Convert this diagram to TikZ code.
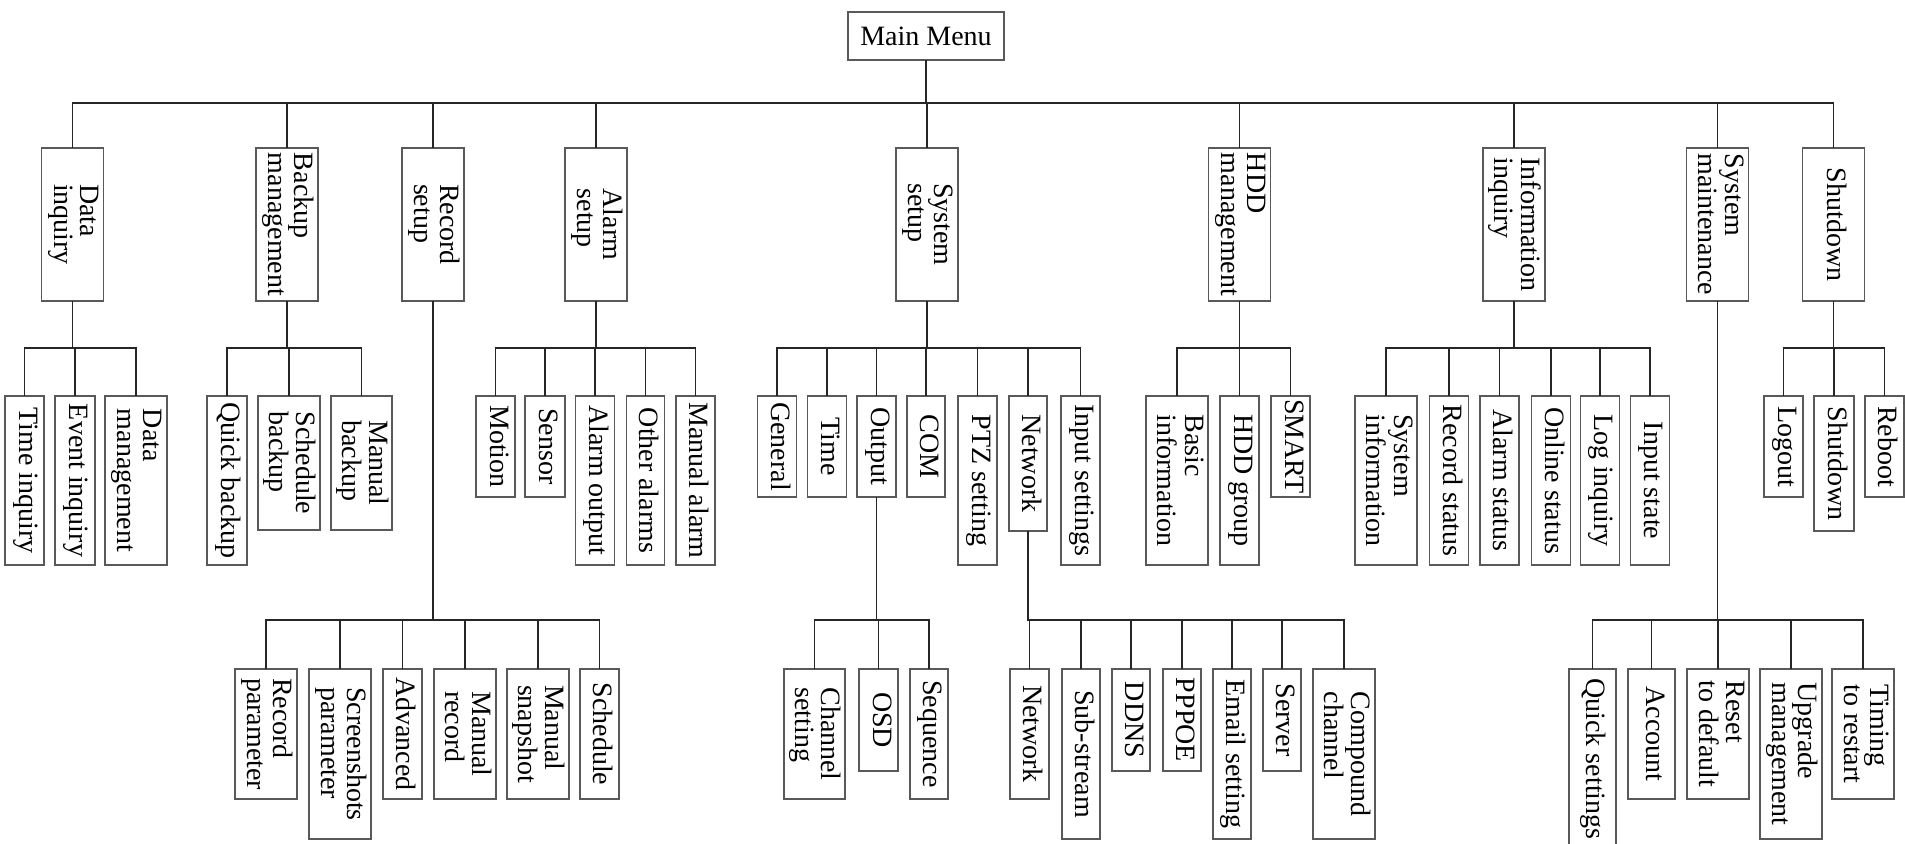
\documentclass[tikz,border=0pt]{standalone}
\usepackage{fontspec}
\setmainfont{Liberation Serif}
\usepackage{graphicx}
\newcommand\rt[1]{\rotatebox{-90}{\begin{tabular}{@{}l@{}}#1\end{tabular}}}
\begin{document}
\begin{tikzpicture}[x=1pt,y=-1pt,
  bx/.style 2 args={draw=black!65, line width=1.2pt, inner sep=0pt,
    minimum width=#1pt, minimum height=#2pt, font=\fontsize{28}{26}\selectfont},
  conn/.style={draw=black!85, line width=1.2pt, line cap=rect}]
\useasboundingbox (0,0) rectangle (1905,843);
\coordinate (b0) at (0,103);
\coordinate (b1) at (0,348);
\coordinate (b2) at (0,620);
% root
\node[bx={156}{48}] (mm) at (926,36) {Main Menu};
% level 1
\node[bx={62}{153}] (di) at (72.5,224.5) {\rt{Data\\inquiry}};
\node[bx={62}{153}] (bm) at (287,224.5) {\rt{Backup\\management}};
\node[bx={62}{153}] (rs) at (433,224.5) {\rt{Record\\setup}};
\node[bx={62}{153}] (as) at (596,224.5) {\rt{Alarm\\setup}};
\node[bx={62}{153}] (ss) at (927,224.5) {\rt{System\\setup}};
\node[bx={62}{153}] (hm) at (1239.5,224.5) {\rt{HDD\\management}};
\node[bx={62}{153}] (ii) at (1514,224.5) {\rt{Information\\inquiry}};
\node[bx={62}{153}] (sm) at (1717.5,224.5) {\rt{System\\maintenance}};
\node[bx={62}{153}] (sd) at (1833.5,224.5) {\rt{Shutdown}};
% level 2
\node[bx={39}{169}] (ti) at (24.5,480.5) {\rt{Time inquiry}};
\node[bx={40}{169}] (ei) at (75,480.5) {\rt{Event inquiry}};
\node[bx={62}{169}] (dm) at (136,480.5) {\rt{Data\\management}};
\node[bx={40}{169}] (qb) at (227,480.5) {\rt{Quick backup}};
\node[bx={62}{134}] (sb) at (289,463) {\rt{Schedule\\backup}};
\node[bx={61}{134}] (mb) at (361.5,463) {\rt{Manual\\backup}};
\node[bx={39}{101}] (mo) at (495.5,446.5) {\rt{Motion}};
\node[bx={40}{101}] (se) at (545,446.5) {\rt{Sensor}};
\node[bx={39}{169}] (ao) at (595,480.5) {\rt{Alarm output}};
\node[bx={38}{169}] (oa) at (645.5,480.5) {\rt{Other alarms}};
\node[bx={39}{169}] (ma) at (695.5,480.5) {\rt{Manual alarm}};
\node[bx={39}{101}] (ge) at (777,446.5) {\rt{General}};
\node[bx={39}{101}] (tm) at (827,446.5) {\rt{Time}};
\node[bx={39}{101}] (op) at (876.5,446.5) {\rt{Output}};
\node[bx={38}{101}] (co) at (926,446.5) {\rt{COM}};
\node[bx={39}{169}] (pt) at (977.5,480.5) {\rt{PTZ setting}};
\node[bx={38}{135}] (nw) at (1028,463.5) {\rt{Network}};
\node[bx={39}{169}] (is) at (1080.5,480.5) {\rt{Input settings}};
\node[bx={62}{169}] (bi) at (1177,480.5) {\rt{Basic\\information}};
\node[bx={39}{169}] (hg) at (1239.5,480.5) {\rt{HDD group}};
\node[bx={39}{101}] (sma) at (1290.5,446.5) {\rt{SMART}};
\node[bx={62}{169}] (syi) at (1386,480.5) {\rt{System\\information}};
\node[bx={39}{169}] (rst) at (1449,480.5) {\rt{Record status}};
\node[bx={39}{169}] (ast) at (1499.5,480.5) {\rt{Alarm status}};
\node[bx={39}{169}] (ost) at (1551,480.5) {\rt{Online status}};
\node[bx={39}{169}] (li) at (1600,480.5) {\rt{Log inquiry}};
\node[bx={39}{169}] (ist) at (1650,480.5) {\rt{Input state}};
\node[bx={39}{101}] (lo) at (1783.5,446.5) {\rt{Logout}};
\node[bx={40}{135}] (sh) at (1834,463.5) {\rt{Shutdown}};
\node[bx={39}{101}] (rb) at (1884.5,446.5) {\rt{Reboot}};
% level 3
\node[bx={62}{130}] (rp) at (266,734) {\rt{Record\\parameter}};
\node[bx={62}{170}] (sp) at (340,754) {\rt{Screenshots\\parameter}};
\node[bx={39}{130}] (adv) at (402.5,734) {\rt{Advanced}};
\node[bx={62}{130}] (mr) at (465,734) {\rt{Manual\\record}};
\node[bx={62}{130}] (msn) at (538,734) {\rt{Manual\\snapshot}};
\node[bx={39}{130}] (sch) at (599.5,734) {\rt{Schedule}};
\node[bx={61}{130}] (cs) at (814.5,734) {\rt{Channel\\setting}};
\node[bx={39}{102}] (osd) at (878.5,720) {\rt{OSD}};
\node[bx={38}{130}] (seq) at (929,734) {\rt{Sequence}};
\node[bx={39}{130}] (nn) at (1029.5,734) {\rt{Network}};
\node[bx={38}{170}] (ssm) at (1081,754) {\rt{Sub-stream}};
\node[bx={38}{102}] (dd) at (1131,720) {\rt{DDNS}};
\node[bx={38}{102}] (pp) at (1182,720) {\rt{PPPOE}};
\node[bx={38}{170}] (es) at (1232,754) {\rt{Email setting}};
\node[bx={38}{102}] (sv) at (1282,720) {\rt{Server}};
\node[bx={62}{170}] (cc) at (1344,754) {\rt{Compound\\channel}};
\node[bx={47}{180}] (qs) at (1592.5,759) {\rt{Quick settings}};
\node[bx={47}{130}] (acc) at (1651.5,734) {\rt{Account}};
\node[bx={62}{130}] (rd) at (1718,734) {\rt{Reset\\to default}};
\node[bx={62}{170}] (um) at (1791,754) {\rt{Upgrade\\management}};
\node[bx={62}{130}] (tr) at (1863,734) {\rt{Timing\\to restart}};
% connectors level 0-1
\draw[conn] (mm.south) -- (mm.south |- b0);
\draw[conn] (di.north |- b0) -- (sd.north |- b0);
\foreach \n in {di,bm,rs,as,ss,hm,ii,sm,sd} \draw[conn] (\n.north) -- (\n.north |- b0);
% level 1-2 groups
\foreach \p/\f/\l/\cs in {di/ti/dm/{ti,ei,dm}, bm/qb/mb/{qb,sb,mb}, as/mo/ma/{mo,se,ao,oa,ma},
  ss/ge/is/{ge,tm,op,co,pt,nw,is}, hm/bi/sma/{bi,hg,sma}, ii/syi/ist/{syi,rst,ast,ost,li,ist},
  sd/lo/rb/{lo,sh,rb}}{
  \draw[conn] (\p.south) -- (\p.south |- b1);
  \draw[conn] (\f.north |- b1) -- (\l.north |- b1);
  \foreach \c in \cs \draw[conn] (\c.north) -- (\c.north |- b1);
}
% level 3 groups
\foreach \p/\f/\l/\cs in {rs/rp/sch/{rp,sp,adv,mr,msn,sch}, op/cs/seq/{cs,osd,seq},
  nw/nn/cc/{nn,ssm,dd,pp,es,sv,cc}, sm/qs/tr/{qs,acc,rd,um,tr}}{
  \draw[conn] (\p.south) -- (\p.south |- b2);
  \draw[conn] (\f.north |- b2) -- (\l.north |- b2);
  \foreach \c in \cs \draw[conn] (\c.north) -- (\c.north |- b2);
}
\end{tikzpicture}
\end{document}
